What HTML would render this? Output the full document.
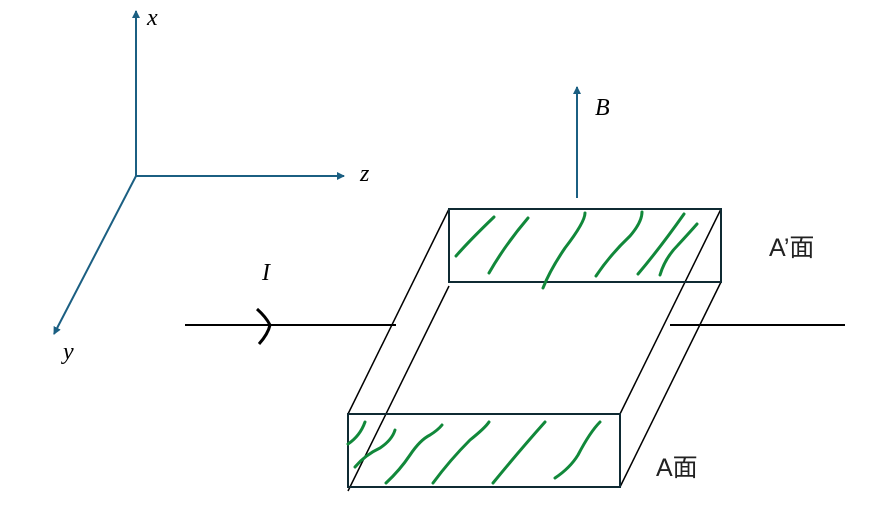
<!DOCTYPE html>
<html><head><meta charset="utf-8">
<style>
html,body{margin:0;padding:0;background:#fff;}
svg{display:block;}
.it{font-family:"Liberation Serif",serif;font-style:italic;font-size:24px;fill:#000;}
.cj{font-family:"Liberation Sans","Noto Sans CJK JP",sans-serif;font-size:25px;fill:#222;}
</style></head>
<body>
<svg width="869" height="524" viewBox="0 0 869 524" xmlns="http://www.w3.org/2000/svg">
<defs>
<marker id="ah" markerWidth="10" markerHeight="10" refX="7" refY="4" orient="auto" markerUnits="userSpaceOnUse">
<path d="M0,0 L8,4 L0,8 Z" fill="#1b5f82"/>
</marker>
</defs>
<g stroke="#1b5f82" stroke-width="2" fill="none">
<line x1="136" y1="176" x2="136" y2="11" marker-end="url(#ah)"/>
<line x1="136" y1="176" x2="344" y2="176" marker-end="url(#ah)"/>
<line x1="136" y1="176" x2="54" y2="334" marker-end="url(#ah)"/>
<line x1="577" y1="198" x2="577" y2="87" marker-end="url(#ah)"/>
</g>
<text class="it" x="147" y="25">x</text>
<text class="it" x="360" y="181">z</text>
<text class="it" x="63" y="359">y</text>
<text class="it" x="595" y="115">B</text>
<text class="it" x="262" y="280">I</text>
<g stroke="#000" stroke-width="2" fill="none">
<line x1="185" y1="325" x2="396" y2="325"/>
<line x1="670" y1="325" x2="845" y2="325"/>
<path d="M257,309 Q266,317 270,325 Q268,334 259,344" stroke-width="3"/>
</g>
<g stroke="#000" stroke-width="1.5" fill="none">
<line x1="449" y1="209" x2="348" y2="414"/>
<line x1="449" y1="286" x2="348" y2="491"/>
<line x1="721" y1="209" x2="620" y2="414"/>
<line x1="721" y1="282" x2="620" y2="487"/>
</g>
<g stroke="#0f2a33" stroke-width="2" fill="none">
<rect x="449" y="209" width="272" height="73"/>
<rect x="348" y="414" width="272" height="73"/>
</g>
<g stroke="#11883a" stroke-width="3" fill="none" stroke-linecap="round">
<path d="M456,256 Q470,240 494,217"/>
<path d="M489,273 Q505,245 528,218"/>
<path d="M543,288 Q550,270 565,248 Q585,222 585,213"/>
<path d="M596,276 Q610,255 630,236 Q642,222 642,212"/>
<path d="M638,274 Q660,248 684,214"/>
<path d="M660,275 Q665,258 678,245 Q690,232 697,224"/>
<path d="M348,444 Q360,436 365,422"/>
<path d="M355,467 Q365,455 380,448 Q392,440 395,430"/>
<path d="M386,483 Q400,470 410,455 Q420,440 430,435 Q438,430 442,425"/>
<path d="M433,483 Q450,460 470,440 Q485,428 489,422"/>
<path d="M493,483 Q520,450 545,422"/>
<path d="M555,478 Q570,468 578,455 Q590,432 600,422"/>
</g>
<text class="cj" x="769" y="256">A’面</text>
<text class="cj" x="656" y="476">A面</text>
</svg>
</body></html>
